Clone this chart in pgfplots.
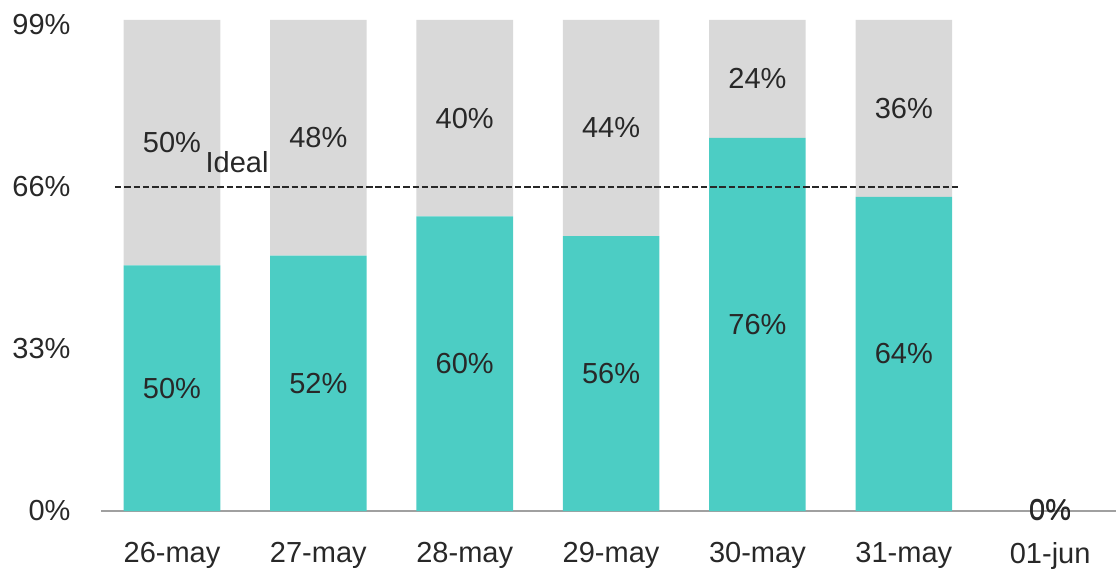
\documentclass[border=0pt]{standalone}
\usepackage{fontspec}
\setmainfont{Liberation Sans}
\usepackage{pgfplots}
\pgfplotsset{compat=1.18}

\definecolor{barteal}{RGB}{76,205,196}
\definecolor{bargray}{RGB}{217,217,217}
\definecolor{txt}{RGB}{40,40,40}
\definecolor{axgray}{RGB}{160,160,160}

\newcommand\lblfont{\fontsize{29pt}{34pt}\selectfont}
\newcommand\xfont{\fontsize{29pt}{34pt}\selectfont}

\pgfplotsset{
  frame/.style={
    width=1015pt, height=491pt, scale only axis,
    xmin=-0.485, xmax=6.45, ymin=0, ymax=100,
  }
}

\begin{document}
\begin{tikzpicture}
\useasboundingbox (-101pt,-65pt) rectangle (1015pt,511pt);

% stacked bars
\begin{axis}[
  frame,
  ybar stacked, bar width=0.66,
  axis x line=bottom, axis y line=left,
  x axis line style={-, draw=axgray, line width=2.2pt},
  y axis line style={draw=none},
  xtick={0,1,2,3,4,5,6},
  xticklabels={26-may,27-may,28-may,29-may,30-may,31-may,01-jun},
  ytick={0,33,66,99},
  yticklabels={0\%,33\%,66\%,99\%},
  major tick length=0pt,
  xtick style={draw=none}, ytick style={draw=none},
  xticklabel style={font=\xfont, text=txt, yshift=-28pt},
  yticklabel style={font=\lblfont, text=txt, xshift=-27pt},
]
\addplot[fill=barteal, draw=none] coordinates
  {(0,50) (1,52) (2,60) (3,56) (4,76) (5,64) (6,0)};
\addplot[fill=bargray, draw=none] coordinates
  {(0,50) (1,48) (2,40) (3,44) (4,24) (5,36) (6,0)};
\end{axis}

% labels and ideal line
\begin{axis}[
  frame, hide axis, clip=false,
  every node near coord/.style={anchor=center, font=\lblfont, text=txt},
]
\addplot[draw=txt, line width=1.6pt, dash pattern=on 6.5pt off 2.8pt]
  coordinates {(-0.39,66) (5.39,66)};
\node[font=\lblfont, text=txt] at (axis cs:0.445,71) {Ideal};
% teal segment values (centre of each segment)
\addplot[draw=none, nodes near coords, point meta=explicit symbolic] coordinates {
  (0,25)[50\%] (1,26)[52\%] (2,30)[60\%] (3,28)[56\%] (4,38)[76\%] (5,32)[64\%] (6,0)[0\%]
};
% gray segment values
\addplot[draw=none, nodes near coords, point meta=explicit symbolic] coordinates {
  (0,75)[50\%] (1,76)[48\%] (2,80)[40\%] (3,78)[44\%] (4,88)[24\%] (5,82)[36\%] (6,0.3)[0\%]
};
\end{axis}
\end{tikzpicture}
\end{document}
